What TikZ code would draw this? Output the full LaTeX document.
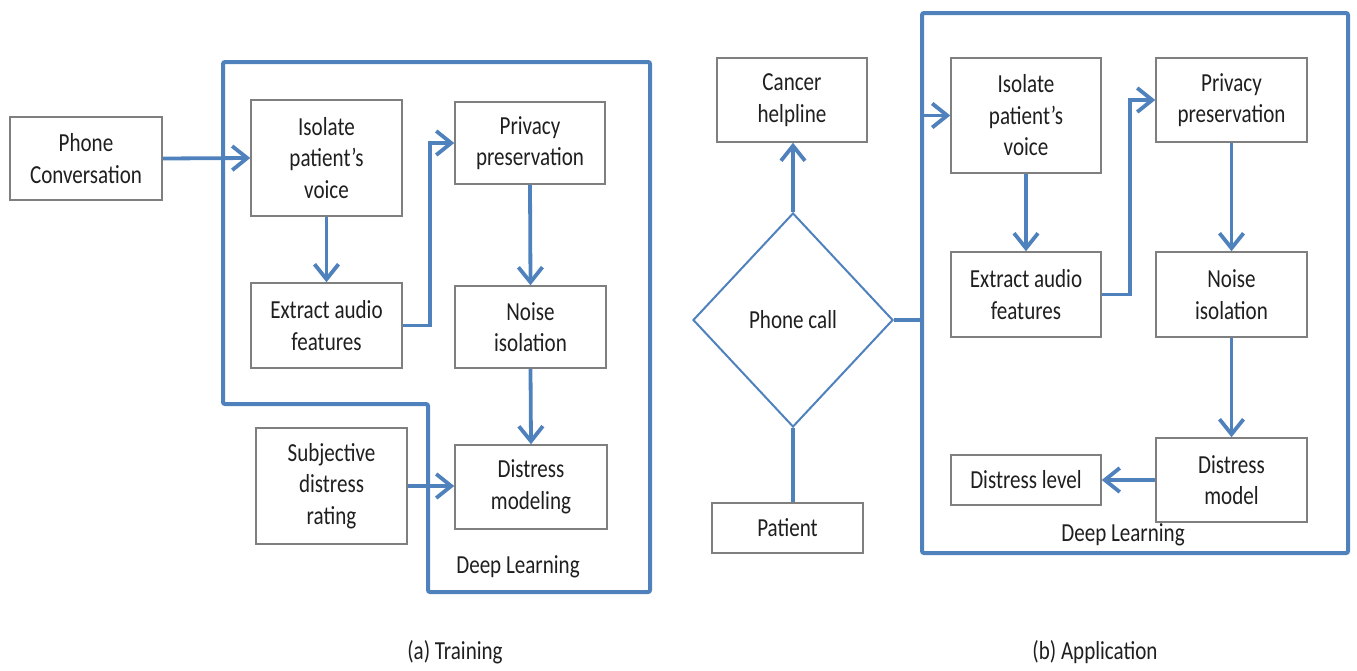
\documentclass[tikz,border=0pt]{standalone}
\usepackage{fontspec}
\setmainfont{Carlito}[FakeStretch=0.81]
\usetikzlibrary{arrows.meta,shapes.geometric,calc}
\definecolor{flowblue}{HTML}{4F81BD}
\definecolor{boxgray}{HTML}{7F7F7F}
\definecolor{txt}{HTML}{1F1F1F}

\begin{document}
\begin{tikzpicture}[x=1pt,y=-1pt,
  every node/.style={font=\fontsize{26}{31.5}\selectfont, text=txt},
  stepbox/.style={draw=boxgray, line width=1.5pt, fill=white, align=center, inner sep=0pt},
  wh/.style 2 args={minimum width=#1pt, minimum height=#2pt},
  flow/.style={draw=flowblue, line width=3.8pt},
  arr/.style={flow, -{Straight Barb[length=15pt,width=24pt]}},
  frame/.style={draw=flowblue, line width=4pt, rounded corners=2pt},
]
\useasboundingbox (0,0) rectangle (1357,670);

% ---------------- (a) Training ----------------
\draw[frame] (223,62) -- (650,62) -- (650,592) -- (428,592) -- (428,404) -- (223,404) -- cycle;

\node[stepbox, wh={152}{83}]  (pc)     at (86,158.5)   {Phone\\Conversation};
\node[stepbox, wh={151}{116}] (iso1)   at (326.5,158)  {Isolate\\patient’s\\voice};
\node[stepbox, wh={151}{85}]  (ext1)   at (326.5,325.5){Extract audio\\features};
\node[stepbox, wh={150}{82}]  (priv1)  at (530,143)    {Privacy\\preservation};
\node[stepbox, wh={151}{82}]  (noise1) at (530.5,327)  {Noise\\isolation};
\node[stepbox, wh={152}{84}]  (dist1)  at (531,487)    {Distress\\modeling};
\node[stepbox, wh={151}{116}] (subj)   at (331.5,486)  {Subjective\\distress\\rating};
\node (dl1) at (518,567) {Deep Learning};

\draw[arr] (pc.east) -- (iso1.west);
\draw[arr] (iso1.south) -- (ext1.north);
\draw[arr] (ext1.east) -- ++(27,0) |- (priv1.west);
\draw[arr] (priv1.south) -- (noise1.north);
\draw[arr] (noise1.south) -- (dist1.north);
\draw[arr] (subj.east) -- (subj.east -| dist1.west);

\node (capa) at (455,652) {(a) Training};

% ---------------- (b) Application ----------------
\node[draw=flowblue, line width=4pt, rounded corners=2pt, wh={426}{540}] (dl2box) at (1135,283) {};

\node[stepbox, wh={150}{84}]  (help)   at (792,100)    {Cancer\\helpline};
\node[diamond, draw=flowblue, line width=2pt, fill=white, inner sep=0pt, wh={200}{214}] (call) at (793,320) {Phone call};
\node[stepbox, wh={151}{50}]  (patient) at (787.5,528) {Patient};

\node[stepbox, wh={150}{115}] (iso2)   at (1026,115.5) {Isolate\\patient’s\\voice};
\node[stepbox, wh={150}{85}]  (ext2)   at (1026,294.5) {Extract audio\\features};
\node[stepbox, wh={151}{84}]  (priv2)  at (1231.5,100) {Privacy\\preservation};
\node[stepbox, wh={151}{85}]  (noise2) at (1231.5,294.5) {Noise\\isolation};
\node[stepbox, wh={151}{84}]  (model2) at (1231.5,480) {Distress\\model};
\node[stepbox, wh={150}{50}]  (level2) at (1026,480)   {Distress level};
\node (dl2) at (1123,535) {Deep Learning};

\draw[arr] (call.north) -- (call.north |- help.south);
\draw[flow] (call.south) -- (call.south |- patient.north);
\draw[flow] (call.east) -- (call.east -| dl2box.west);
\draw[arr] (dl2box.west |- iso2.west) -- (iso2.west);
\draw[arr] (iso2.south) -- (ext2.north);
\draw[arr] (ext2.east) -- ++(28,0) |- (priv2.west);
\draw[arr] (priv2.south) -- (noise2.north);
\draw[arr] (noise2.south) -- (model2.north);
\draw[arr] (model2.west) -- (level2.east);

\node (capb) at (1095,652) {(b) Application};
\end{tikzpicture}
\end{document}
